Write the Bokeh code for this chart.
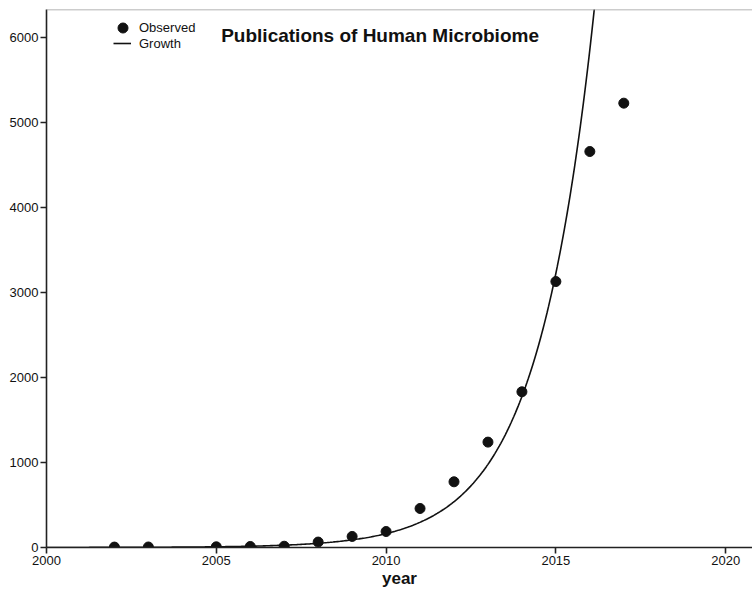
import numpy as np
from bokeh.plotting import figure
from bokeh.models import (ColumnDataSource, FixedTicker, Label, Legend, LegendItem,
                          Range1d, Span)
from bokeh.embed import file_html
from bokeh.resources import INLINE

# Publications per year (observed)
years = [2002, 2003, 2005, 2006, 2007, 2008, 2009, 2010, 2011, 2012, 2013, 2014, 2015, 2016, 2017]
counts = [5, 6, 8, 12, 15, 64, 130, 188, 459, 773, 1240, 1832, 3129, 4659, 5228]

# Growth model: ln(y) = b0 + b1 * (year - 2015)
growth_b0 = 8.079
growth_b1 = 0.5965

x_ticks = [2000, 2005, 2010, 2015, 2020]
y_ticks = [0, 1000, 2000, 3000, 4000, 5000, 6000]

FONT = "Liberation Sans"
INK = "#111111"

p = figure(width=752, height=591, output_backend="svg", toolbar_location=None,
           x_range=Range1d(2000, 2020.79), y_range=Range1d(0, 6330),
           min_border_left=46, min_border_right=0, min_border_top=9, min_border_bottom=44)
p.outline_line_color = None
p.xgrid.visible = False
p.ygrid.visible = False
p.background_fill_color = "white"
p.border_fill_color = "white"

for ax in (p.xaxis[0], p.yaxis[0]):
    ax.axis_line_color = "#222222"
    ax.axis_line_width = 1.6
    ax.major_tick_line_color = "#222222"
    ax.major_tick_line_width = 1.6
    ax.major_tick_in = 0
    ax.major_tick_out = 6
    ax.minor_tick_line_color = None
    ax.major_label_text_font = FONT
    ax.major_label_text_font_size = "13px"
    ax.major_label_text_color = INK
    ax.major_label_standoff = 2

p.xaxis.ticker = FixedTicker(ticks=x_ticks)
p.yaxis.ticker = FixedTicker(ticks=y_ticks)
p.xaxis.axis_label = "year"
p.xaxis.axis_label_text_font = FONT
p.xaxis.axis_label_text_font_style = "bold"
p.xaxis.axis_label_text_font_size = "17px"
p.xaxis.axis_label_text_color = INK
p.xaxis.axis_label_standoff = 1

# top frame line
p.add_layout(Span(location=6330, dimension="width", line_color="#9a9a9a", line_width=1.5))

# fitted growth curve
t = np.linspace(2000, 2017, 400)
curve = ColumnDataSource(dict(x=t, y=np.exp(growth_b0 + growth_b1 * (t - 2015))))
growth_r = p.line("x", "y", source=curve, line_color=INK, line_width=1.6)

obs = ColumnDataSource(dict(x=years, y=counts))
obs_r = p.scatter("x", "y", source=obs, size=10, fill_color=INK, line_color=INK)

legend_style = dict(padding=0, margin=0, spacing=0, label_text_font=FONT,
                    label_text_font_size="13px", label_text_color=INK,
                    border_line_color=None, background_fill_alpha=0)

# one legend per key so the dot keeps its full size and the line stays short
obs_legend = Legend(items=[LegendItem(label="Observed", renderers=[obs_r])],
                    location=(64, 507), glyph_width=25, glyph_height=25,
                    label_height=25, label_standoff=4, **legend_style)
growth_legend = Legend(items=[LegendItem(label="Growth", renderers=[growth_r])],
                       location=(67, 496), glyph_width=18, glyph_height=16,
                       label_height=16, label_standoff=8, **legend_style)
p.add_layout(obs_legend, "center")
p.add_layout(growth_legend, "center")

p.add_layout(Label(x=174.7, y=512, x_units="screen", y_units="screen",
                   text="Publications of Human Microbiome", text_font=FONT,
                   text_font_style="bold", text_font_size="19px", text_color=INK,
                   text_baseline="alphabetic"))

open("out.html", "w").write(file_html(p, INLINE))
